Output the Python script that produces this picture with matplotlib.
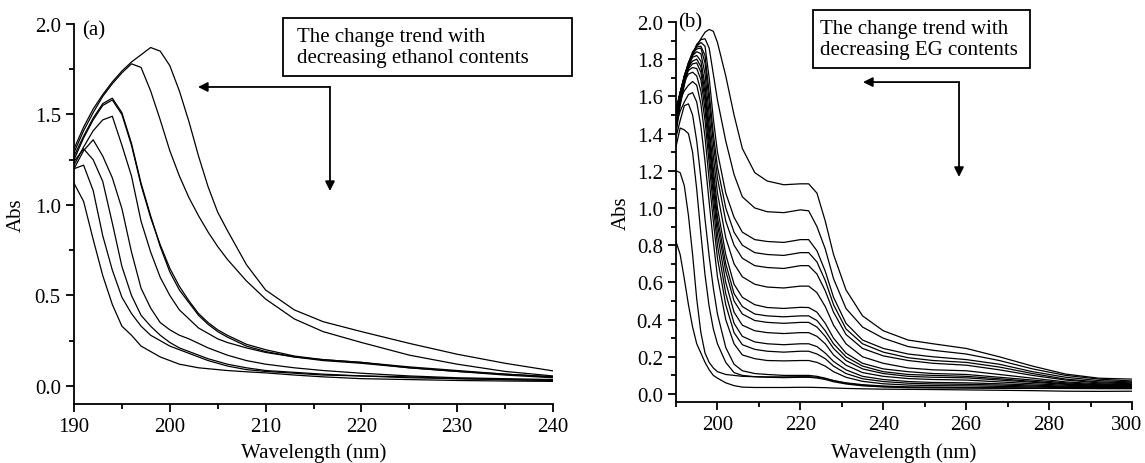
import matplotlib
matplotlib.use("Agg")
import matplotlib.pyplot as plt
from matplotlib.patches import Rectangle
from matplotlib.ticker import MultipleLocator
from matplotlib.transforms import ScaledTranslation

plt.rcParams['font.family'] = ['Liberation Serif', 'DejaVu Serif']
plt.rcParams['font.size'] = 15

# ---------------- panel (a): ethanol ----------------
wl_a = [190, 191, 192, 193, 194, 195, 196, 197, 198, 199, 200, 201, 202, 203,
        204, 205, 206, 208, 210, 213, 216, 220, 225, 230, 235, 240]

abs_a = [
    [1.31, 1.43, 1.53, 1.61, 1.68, 1.74, 1.79, 1.83, 1.87, 1.85, 1.77, 1.63, 1.46, 1.27,
     1.10, 0.96, 0.86, 0.67, 0.53, 0.42, 0.355, 0.30, 0.235, 0.175, 0.125, 0.083],
    [1.29, 1.41, 1.51, 1.60, 1.67, 1.73, 1.78, 1.76, 1.63, 1.47, 1.30, 1.16, 1.04, 0.94,
     0.85, 0.77, 0.70, 0.58, 0.48, 0.37, 0.30, 0.24, 0.17, 0.12, 0.08, 0.055],
    [1.27, 1.38, 1.48, 1.56, 1.59, 1.51, 1.34, 1.12, 0.94, 0.77, 0.63, 0.53, 0.46, 0.39,
     0.34, 0.30, 0.27, 0.22, 0.19, 0.16, 0.14, 0.125, 0.10, 0.08, 0.065, 0.05],
    [1.25, 1.37, 1.47, 1.55, 1.58, 1.50, 1.33, 1.11, 0.93, 0.78, 0.65, 0.55, 0.47, 0.40,
     0.35, 0.31, 0.28, 0.23, 0.20, 0.165, 0.145, 0.13, 0.105, 0.085, 0.065, 0.05],
    [1.22, 1.32, 1.41, 1.47, 1.49, 1.33, 1.16, 0.91, 0.74, 0.60, 0.50, 0.42, 0.37, 0.32,
     0.29, 0.26, 0.24, 0.21, 0.185, 0.16, 0.145, 0.13, 0.10, 0.08, 0.06, 0.045],
    [1.20, 1.30, 1.36, 1.27, 1.15, 0.98, 0.74, 0.54, 0.43, 0.35, 0.31, 0.28, 0.26, 0.235,
     0.21, 0.19, 0.17, 0.14, 0.12, 0.10, 0.085, 0.07, 0.055, 0.045, 0.04, 0.035],
    [1.24, 1.31, 1.25, 1.13, 0.90, 0.66, 0.50, 0.39, 0.33, 0.28, 0.24, 0.21, 0.19, 0.17,
     0.15, 0.135, 0.12, 0.10, 0.085, 0.075, 0.065, 0.055, 0.05, 0.04, 0.035, 0.03],
    [1.20, 1.22, 1.08, 0.83, 0.64, 0.49, 0.40, 0.33, 0.28, 0.25, 0.22, 0.20, 0.18, 0.16,
     0.14, 0.125, 0.11, 0.09, 0.08, 0.07, 0.06, 0.055, 0.045, 0.04, 0.035, 0.03],
    [1.12, 1.02, 0.81, 0.61, 0.45, 0.33, 0.28, 0.22, 0.19, 0.16, 0.14, 0.12, 0.11, 0.10,
     0.095, 0.09, 0.085, 0.078, 0.072, 0.06, 0.05, 0.04, 0.035, 0.03, 0.027, 0.025],
]

# ---------------- panel (b): EG ----------------
wl_b = [190, 191, 192, 193, 194, 195, 196, 197, 198, 199, 200, 202, 204, 206,
        209, 212, 216, 220, 222, 224, 226, 228, 231, 235, 240, 246, 252, 260,
        268, 276, 284, 292, 300]

abs_b = [
    [1.40, 1.55, 1.66, 1.75, 1.82, 1.87, 1.91, 1.945, 1.96, 1.95, 1.89, 1.71, 1.50, 1.32,
     1.19, 1.145, 1.125, 1.13, 1.13, 1.08, 0.93, 0.75, 0.56, 0.42, 0.34, 0.29, 0.27, 0.245,
     0.20, 0.15, 0.107, 0.085, 0.08],
    [1.42, 1.56, 1.67, 1.76, 1.83, 1.88, 1.905, 1.91, 1.86, 1.72, 1.58, 1.36, 1.18, 1.06,
     1.00, 0.98, 0.975, 0.99, 0.985, 0.90, 0.78, 0.62, 0.46, 0.36, 0.30, 0.255, 0.235, 0.215,
     0.18, 0.135, 0.10, 0.08, 0.07],
    [1.45, 1.58, 1.69, 1.77, 1.83, 1.87, 1.89, 1.87, 1.70, 1.48, 1.30, 1.08, 0.95, 0.87,
     0.83, 0.82, 0.815, 0.83, 0.83, 0.77, 0.66, 0.52, 0.38, 0.29, 0.245, 0.215, 0.20, 0.185,
     0.16, 0.12, 0.09, 0.072, 0.065],
    [1.47, 1.60, 1.70, 1.78, 1.84, 1.865, 1.87, 1.82, 1.62, 1.40, 1.22, 1.00, 0.87, 0.80,
     0.76, 0.75, 0.745, 0.76, 0.76, 0.71, 0.61, 0.48, 0.35, 0.27, 0.225, 0.195, 0.18, 0.17,
     0.145, 0.11, 0.08, 0.065, 0.06],
    [1.48, 1.61, 1.71, 1.78, 1.83, 1.855, 1.86, 1.78, 1.57, 1.35, 1.16, 0.93, 0.80, 0.73,
     0.69, 0.68, 0.675, 0.69, 0.69, 0.645, 0.555, 0.44, 0.32, 0.245, 0.205, 0.18, 0.165, 0.155,
     0.13, 0.10, 0.075, 0.06, 0.055],
    [1.50, 1.62, 1.71, 1.78, 1.82, 1.84, 1.83, 1.72, 1.50, 1.28, 1.08, 0.84, 0.70, 0.63,
     0.59, 0.575, 0.57, 0.58, 0.58, 0.545, 0.47, 0.37, 0.27, 0.20, 0.165, 0.14, 0.13, 0.125,
     0.105, 0.085, 0.065, 0.055, 0.05],
    [1.50, 1.62, 1.71, 1.77, 1.81, 1.82, 1.79, 1.66, 1.44, 1.21, 1.00, 0.75, 0.59, 0.52,
     0.48, 0.465, 0.46, 0.466, 0.465, 0.44, 0.38, 0.30, 0.22, 0.165, 0.135, 0.12, 0.11, 0.105,
     0.09, 0.075, 0.06, 0.05, 0.05],
    [1.51, 1.62, 1.70, 1.76, 1.79, 1.80, 1.76, 1.62, 1.39, 1.16, 0.95, 0.70, 0.54, 0.47,
     0.43, 0.42, 0.415, 0.42, 0.42, 0.395, 0.34, 0.27, 0.20, 0.15, 0.12, 0.105, 0.10, 0.095,
     0.082, 0.068, 0.055, 0.047, 0.045],
    [1.52, 1.62, 1.70, 1.75, 1.775, 1.78, 1.73, 1.58, 1.35, 1.12, 0.91, 0.66, 0.50, 0.43,
     0.395, 0.385, 0.38, 0.385, 0.385, 0.36, 0.31, 0.245, 0.18, 0.135, 0.11, 0.095, 0.09, 0.087,
     0.075, 0.063, 0.052, 0.045, 0.045],
    [1.52, 1.62, 1.69, 1.74, 1.755, 1.75, 1.69, 1.53, 1.30, 1.07, 0.86, 0.60, 0.44, 0.37,
     0.34, 0.33, 0.325, 0.33, 0.33, 0.31, 0.27, 0.21, 0.155, 0.115, 0.095, 0.083, 0.078, 0.075,
     0.065, 0.055, 0.047, 0.042, 0.04],
    [1.53, 1.62, 1.68, 1.72, 1.73, 1.71, 1.63, 1.47, 1.24, 1.01, 0.80, 0.54, 0.38, 0.31,
     0.28, 0.27, 0.265, 0.27, 0.27, 0.255, 0.22, 0.175, 0.13, 0.095, 0.078, 0.067, 0.062, 0.06,
     0.055, 0.048, 0.042, 0.04, 0.04],
    [1.50, 1.58, 1.63, 1.66, 1.68, 1.66, 1.56, 1.38, 1.15, 0.93, 0.73, 0.48, 0.33, 0.265,
     0.24, 0.23, 0.225, 0.23, 0.23, 0.215, 0.19, 0.15, 0.11, 0.082, 0.067, 0.058, 0.054, 0.052,
     0.048, 0.043, 0.038, 0.036, 0.035],
    [1.45, 1.52, 1.57, 1.61, 1.62, 1.57, 1.44, 1.25, 1.03, 0.82, 0.63, 0.40, 0.27, 0.21,
     0.19, 0.18, 0.178, 0.18, 0.18, 0.17, 0.15, 0.12, 0.09, 0.068, 0.055, 0.048, 0.045, 0.044,
     0.041, 0.038, 0.035, 0.033, 0.033],
    [1.38, 1.47, 1.55, 1.56, 1.50, 1.36, 1.16, 0.94, 0.74, 0.57, 0.43, 0.25, 0.16, 0.125,
     0.11, 0.105, 0.10, 0.10, 0.10, 0.095, 0.085, 0.072, 0.058, 0.047, 0.04, 0.036, 0.035, 0.034,
     0.033, 0.032, 0.031, 0.03, 0.03],
    [1.33, 1.43, 1.42, 1.40, 1.30, 1.10, 0.86, 0.64, 0.47, 0.35, 0.27, 0.17, 0.115, 0.10,
     0.093, 0.09, 0.088, 0.09, 0.09, 0.086, 0.078, 0.066, 0.054, 0.044, 0.038, 0.034, 0.033, 0.032,
     0.031, 0.03, 0.03, 0.029, 0.029],
    [1.20, 1.19, 1.12, 0.96, 0.75, 0.51, 0.33, 0.22, 0.17, 0.14, 0.12, 0.105, 0.10, 0.095,
     0.093, 0.092, 0.092, 0.093, 0.093, 0.09, 0.083, 0.072, 0.06, 0.05, 0.043, 0.038, 0.036, 0.035,
     0.033, 0.031, 0.03, 0.03, 0.03],
    [0.82, 0.75, 0.62, 0.48, 0.36, 0.27, 0.22, 0.17, 0.13, 0.10, 0.085, 0.06, 0.045, 0.037,
     0.035, 0.035, 0.035, 0.036, 0.036, 0.035, 0.034, 0.032, 0.03, 0.028, 0.026, 0.025, 0.024, 0.022,
     0.02, 0.018, 0.015, 0.014, 0.015],
]

box_a = "The change trend with\ndecreasing ethanol contents"
box_b = "The change trend with\ndecreasing EG contents"


def style_axes(ax):
    ax.spines['top'].set_visible(False)
    ax.spines['right'].set_visible(False)
    for s in ('left', 'bottom'):
        ax.spines[s].set_linewidth(1.3)
    ax.tick_params(which='major', direction='out', length=6, width=1.3, labelsize=15)
    ax.tick_params(which='minor', direction='out', length=3.5, width=1.3)
    ax.set_xlabel("Wavelength (nm)", fontsize=15)
    ax.set_ylabel("Abs", fontsize=15)


def trend_arrows(ax, corner, left_tip, down_tip):
    kw = dict(arrowstyle='-|>', color='black', lw=1.3, mutation_scale=14,
              shrinkA=0, shrinkB=0)
    ax.annotate("", xy=left_tip, xytext=corner, arrowprops=kw, annotation_clip=False)
    ax.annotate("", xy=down_tip, xytext=corner, arrowprops=kw, annotation_clip=False)


fig = plt.figure(figsize=(11.45, 4.64), dpi=100)
ax1 = fig.add_axes([0.06463, 0.12716, 0.41834, 0.81896])
ax2 = fig.add_axes([0.5904, 0.13147, 0.39825, 0.81896])

for y in abs_a:
    ax1.plot(wl_a, y, color='black', lw=0.9)
ax1.set_xlim(190, 240)
ax1.set_ylim(-0.1, 2.0)
ax1.xaxis.set_major_locator(MultipleLocator(10))
ax1.xaxis.set_minor_locator(MultipleLocator(5))
ax1.yaxis.set_major_locator(MultipleLocator(0.5))
ax1.yaxis.set_minor_locator(MultipleLocator(0.25))
style_axes(ax1)
ax1.yaxis.set_label_coords(-0.100, 0.5)
ax1.xaxis.set_label_coords(0.5, -0.10)
ax1.text(190.9, 1.967, "(a)", ha='left', va='center', fontsize=15)
ax1.add_patch(Rectangle((211.8, 1.713), 30.17, 0.320, fill=False, lw=1.3,
                        clip_on=False))
ax1.text(213.3, 1.873, box_a, ha='left', va='center', fontsize=15, linespacing=1.1)
trend_arrows(ax1, (216.72, 1.652), (202.94, 1.652), (216.72, 1.077))

for y in abs_b:
    ax2.plot(wl_b, y, color='black', lw=0.9)
ax2.set_xlim(190, 300)
ax2.set_ylim(-0.043, 2.0)
ax2.set_xticks([200, 220, 240, 260, 280, 300])
ax2.xaxis.set_minor_locator(MultipleLocator(10))
ax2.yaxis.set_major_locator(MultipleLocator(0.2))
ax2.yaxis.set_minor_locator(MultipleLocator(0.1))
style_axes(ax2)
ax2.yaxis.set_label_coords(-0.099, 0.5)
ax2.xaxis.set_label_coords(0.5, -0.105)
ax2.text(190.4, 2.0, "(b)", ha='left', va='center', fontsize=15)
ax2.add_patch(Rectangle((223.05, 1.753), 52.3, 0.312, fill=False, lw=1.3,
                        clip_on=False))
ax2.text(224.8, 1.909, box_b, ha='left', va='center', fontsize=15, linespacing=1.1)
trend_arrows(ax2, (258.27, 1.677), (235.11, 1.677), (258.27, 1.167))

# the last tick label sits a little left of its tick so it stays inside the figure
fig.canvas.draw()
last = ax2.get_xticklabels()[-1]
last.set_transform(last.get_transform() + ScaledTranslation(-4 / 72, 0, fig.dpi_scale_trans))

fig.savefig("out.png", dpi=100)
